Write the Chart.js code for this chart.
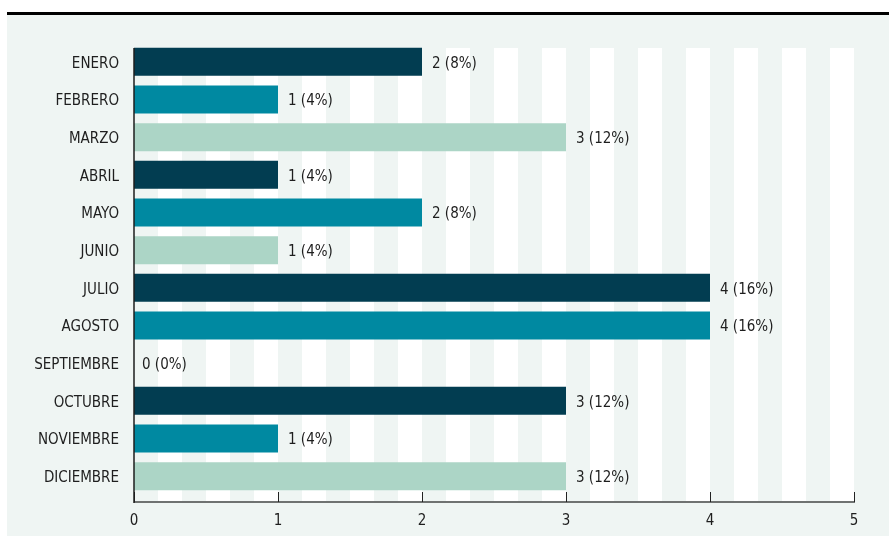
<!DOCTYPE html>
<html>
<head>
<meta charset="utf-8">
<script src="https://cdn.jsdelivr.net/npm/chart.js@4.4.1/dist/chart.umd.min.js"></script>
<style>
  html, body { margin: 0; padding: 0; background: #fff; }
  #wrap { position: relative; width: 889px; height: 536px; overflow: hidden; }
  #panel { position: absolute; left: 7px; top: 12px; right: 0; bottom: 0; background: #eff5f3; border-top: 3px solid #000; }
  #c { position: absolute; left: 0; top: 0; }
</style>
</head>
<body>
<div id="wrap">
  <div id="panel"></div>
  <canvas id="c" width="889" height="536"></canvas>
</div>
<script>
// datos
const meses = ['ENERO', 'FEBRERO', 'MARZO', 'ABRIL', 'MAYO', 'JUNIO', 'JULIO', 'AGOSTO', 'SEPTIEMBRE', 'OCTUBRE', 'NOVIEMBRE', 'DICIEMBRE'];
const valores = [2, 1, 3, 1, 2, 1, 4, 4, 0, 3, 1, 3];
const ticksX = [0, 1, 2, 3, 4, 5];
const paleta = ['#023d51', '#0089a1', '#acd5c6'];

const FONT = '"DejaVu Sans Condensed", "Liberation Sans Narrow", sans-serif';
const total = valores.reduce((a, b) => a + b, 0);

// franjas verticales + ejes
const franjas = {
  id: 'franjas',
  beforeDatasetsDraw(chart) {
    const { ctx, chartArea } = chart;
    const x = chart.scales.x;
    const top = chartArea.top + 5, bottom = chartArea.bottom + 7;
    ctx.save();
    ctx.fillStyle = '#ffffff';
    ctx.fillRect(chartArea.left, top, chartArea.right - chartArea.left, bottom - top);
    ctx.fillStyle = '#eff5f3';
    const n = (x.max - x.min) * 6;
    for (let k = 0; k < n; k += 2) {
      const a = x.getPixelForValue(k / 6), b = x.getPixelForValue((k + 1) / 6);
      ctx.fillRect(a, top, b - a, bottom - top);
    }
    ctx.restore();
  },
  afterDatasetsDraw(chart) {
    const { ctx, chartArea } = chart;
    const x = chart.scales.x;
    const top = chartArea.top + 5, bottom = chartArea.bottom + 7;
    ctx.save();
    // eje x
    ctx.strokeStyle = '#6f7271';
    ctx.lineWidth = 2;
    ctx.beginPath();
    ctx.moveTo(chartArea.left, bottom);
    ctx.lineTo(chartArea.right + 1, bottom);
    ctx.stroke();
    // marcas
    ctx.strokeStyle = '#222';
    ctx.lineWidth = 1;
    ticksX.forEach(t => {
      const px = Math.round(x.getPixelForValue(t)) + 0.5;
      ctx.beginPath();
      ctx.moveTo(px, bottom - 10);
      ctx.lineTo(px, bottom);
      ctx.stroke();
    });
    // eje y
    ctx.strokeStyle = '#1c1c1c';
    ctx.lineWidth = 1.5;
    ctx.beginPath();
    ctx.moveTo(chartArea.left, top);
    ctx.lineTo(chartArea.left, bottom + 1);
    ctx.stroke();
    // etiquetas de valor
    ctx.fillStyle = '#1e1e1e';
    ctx.font = '15px ' + FONT;
    ctx.textBaseline = 'middle';
    ctx.textAlign = 'left';
    chart.getDatasetMeta(0).data.forEach((bar, i) => {
      const v = valores[i];
      const pct = Math.round(v / total * 100);
      ctx.fillText(v + ' (' + pct + '%)', bar.x + (v === 0 ? 8 : 10), bar.y + 2);
    });
    ctx.restore();
  }
};

new Chart(document.getElementById('c'), {
  type: 'bar',
  data: {
    labels: meses,
    datasets: [{
      data: valores,
      backgroundColor: meses.map((m, i) => paleta[i % 3]),
      borderWidth: 0,
      categoryPercentage: 1,
      barPercentage: 0.744
    }]
  },
  options: {
    indexAxis: 'y',
    responsive: false,
    animation: false,
    layout: { padding: { left: 0, right: 35, top: 43, bottom: 0 } },
    plugins: { legend: { display: false }, tooltip: { enabled: false } },
    scales: {
      x: {
        min: 0, max: 5,
        afterFit: s => { s.height = 41; },
        afterBuildTicks: s => { s.ticks = ticksX.map(v => ({ value: v })); },
        grid: { display: false, drawTicks: false },
        border: { display: false },
        ticks: { color: '#1e1e1e', padding: 17, font: { family: FONT, size: 15 } }
      },
      y: {
        afterFit: s => { s.width = 134; },
        grid: { display: false, drawTicks: false },
        border: { display: false },
        ticks: { color: '#1e1e1e', padding: 15, labelOffset: 2, font: { family: FONT, size: 15 } }
      }
    }
  },
  plugins: [franjas]
});
</script>
</body>
</html>
